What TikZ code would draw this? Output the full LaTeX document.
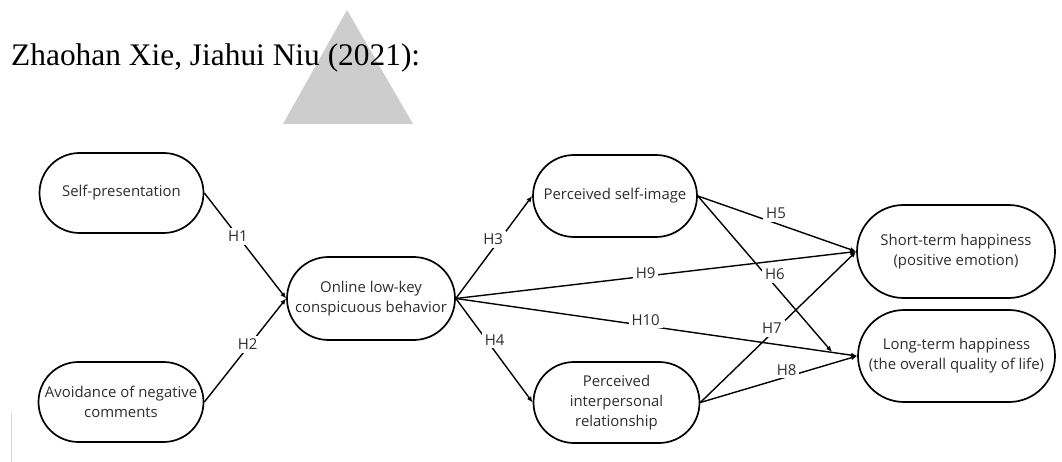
\documentclass[tikz,border=0pt]{standalone}
\usepackage{fontspec}
\setmainfont{Liberation Serif}
\newfontfamily\osans{Open Sans}
\usetikzlibrary{shapes.misc,arrows.meta}
\definecolor{wmgray}{RGB}{205,205,205}
\definecolor{vlgray}{RGB}{215,215,215}
\definecolor{txt}{RGB}{45,45,45}
\begin{document}
\begin{tikzpicture}[x=1pt,y=-1pt,
  box/.style={rounded rectangle, draw, line width=1.7pt, inner sep=0pt,
    align=center, text=txt, font=\osans\fontsize{14.9}{20}\selectfont},
  arr/.style={line width=1.4pt, -{Latex[length=6pt,width=5pt]}},
  lab/.style={fill=white, inner sep=3pt, text=txt, font=\osans\fontsize{15}{17}\selectfont}]
\useasboundingbox (0,0) rectangle (1062,462);
% watermark triangle
\fill[wmgray] (347,10) coordinate (tA) -- (283,124) coordinate (tB) -- (413,124) coordinate (tC) -- cycle;
\draw[line width=0.8pt, vlgray] (11,413) coordinate (vA) -- (11,462) coordinate (vB);
% title
\node[anchor=base west, inner sep=0pt, font=\fontsize{31.4}{36}\selectfont] (title) at (11,66) {Zhaohan Xie, Jiahui Niu (2021):};
% nodes
\node[box, minimum width=164pt, minimum height=80pt] (self) at (121.5,193) {Self-presentation};
\node[box, minimum width=165pt, minimum height=80pt] (avoid) at (121,402) {Avoidance of negative\\comments};
\node[box, minimum width=168pt, minimum height=83pt] (online) at (371,298.5) {Online low-key\\conspicuous behavior};
\node[box, minimum width=164pt, minimum height=82pt] (simg) at (615,196) {Perceived self-image};
\node[box, minimum width=166pt, minimum height=81pt] (inter) at (616.5,402.5) {Perceived\\interpersonal\\relationship};
\node[box, minimum width=198pt, minimum height=93pt] (short) at (956,251.5) {Short-term happiness\\(positive emotion)};
\node[box, minimum width=197pt, minimum height=92pt] (long) at (956.5,356) {Long-term happiness\\(the overall quality of life)};
\coordinate (h6end) at (832,352);
% connectors
\draw[arr] (self.east) -- node[lab, pos=.41] (l1) {H1} (online.west);
\draw[arr] (avoid.east) -- node[lab, pos=.53, yshift=3pt] (l2) {H2} (online.west);
\draw[arr] (online.east) -- node[lab, pos=.58, xshift=-7pt] (l3) {H3} (simg.west);
\draw[arr] (online.east) -- node[lab, pos=.4, xshift=8pt] (l4) {H4} (inter.west);
\draw[arr] (online.east) -- node[lab, pos=.474, yshift=3pt] (l9) {H9} (short.west);
\draw[arr] (online.east) -- node[lab, pos=.473, yshift=6pt] (l10) {H10} (long.west);
\draw[arr] (simg.east) -- node[lab, pos=.494, yshift=10pt] (l5) {H5} (short.west);
\draw[arr] (simg.east) -- node[lab, pos=.5, xshift=10pt] (l6) {H6} (h6end);
\draw[arr] (inter.east) -- node[lab, pos=.459, yshift=5pt] (l7) {H7} (short.west);
\draw[arr] (inter.east) -- node[lab, pos=.55, yshift=7pt] (l8) {H8} (long.west);
\end{tikzpicture}
\end{document}
